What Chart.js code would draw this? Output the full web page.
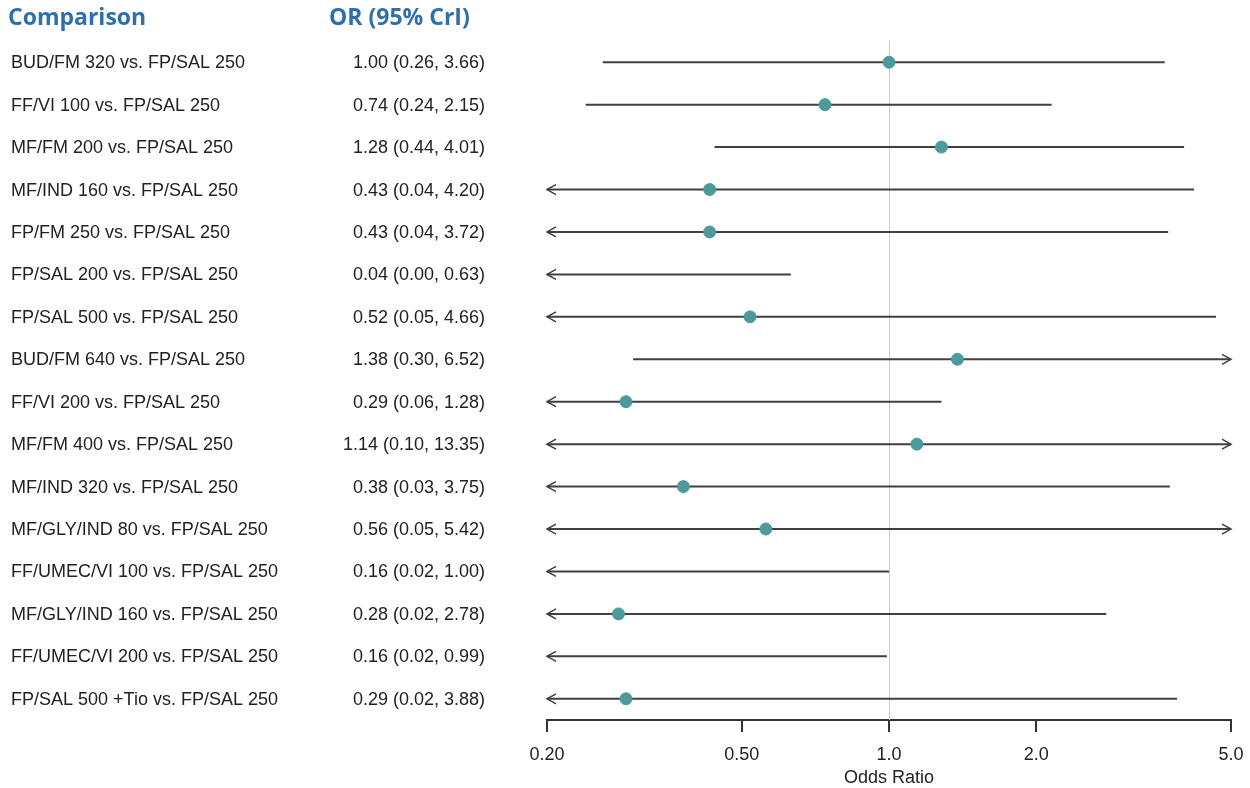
<!DOCTYPE html>
<html>
<head>
<meta charset="utf-8">
<script src="https://cdn.jsdelivr.net/npm/chart.js@4/dist/chart.umd.min.js"></script>
<style>
  body { margin: 0; background: #fff; }
  #wrap { width: 1250px; height: 788px; }
</style>
</head>
<body>
<div id="wrap"><canvas id="forest" width="1250" height="788"></canvas></div>
<script>
const comparisons = [
    'BUD/FM 320 vs. FP/SAL 250',
    'FF/VI 100 vs. FP/SAL 250',
    'MF/FM 200 vs. FP/SAL 250',
    'MF/IND 160 vs. FP/SAL 250',
    'FP/FM 250 vs. FP/SAL 250',
    'FP/SAL 200 vs. FP/SAL 250',
    'FP/SAL 500 vs. FP/SAL 250',
    'BUD/FM 640 vs. FP/SAL 250',
    'FF/VI 200 vs. FP/SAL 250',
    'MF/FM 400 vs. FP/SAL 250',
    'MF/IND 320 vs. FP/SAL 250',
    'MF/GLY/IND 80 vs. FP/SAL 250',
    'FF/UMEC/VI 100 vs. FP/SAL 250',
    'MF/GLY/IND 160 vs. FP/SAL 250',
    'FF/UMEC/VI 200 vs. FP/SAL 250',
    'FP/SAL 500 +Tio vs. FP/SAL 250'
];
const oddsRatio = [1.00, 0.74, 1.28, 0.43, 0.43, 0.04, 0.52, 1.38, 0.29, 1.14, 0.38, 0.56, 0.16, 0.28, 0.16, 0.29];
const lowerCrI  = [0.26, 0.24, 0.44, 0.04, 0.04, 0.00, 0.05, 0.30, 0.06, 0.10, 0.03, 0.05, 0.02, 0.02, 0.02, 0.02];
const upperCrI  = [3.66, 2.15, 4.01, 4.20, 3.72, 0.63, 4.66, 6.52, 1.28, 13.35, 3.75, 5.42, 1.00, 2.78, 0.99, 3.88];
const xTicks = [0.2, 0.5, 1, 2, 5];
const xTickLabels = ['0.20', '0.50', '1.0', '2.0', '5.0'];

const X_MIN = 0.2, X_MAX = 5;
const SANS = '"Liberation Sans", Arial, sans-serif';
const TEXT_FONT = '18px ' + SANS;
const HEAD_FONT = 'bold 23px "Open Sans", "Noto Sans", sans-serif';
const HEAD_COLOR = '#2e6fad';
const TEXT_COLOR = '#222';
const LINE_COLOR = '#404040';
const DOT_COLOR = '#4c9a9b';

const fmt = v => v.toFixed(2);

// text columns on the left + headers
const textColumns = {
    id: 'textColumns',
    afterDraw(chart) {
        const ctx = chart.ctx;
        const y = chart.scales.y;
        ctx.save();
        ctx.font = HEAD_FONT;
        ctx.fillStyle = HEAD_COLOR;
        ctx.textBaseline = 'middle';
        ctx.textAlign = 'left';
        ctx.fillText('Comparison', 8, 18);
        ctx.fillText('OR (95% CrI)', 329, 18);

        ctx.font = TEXT_FONT;
        ctx.fillStyle = TEXT_COLOR;
        comparisons.forEach((name, i) => {
            const py = y.getPixelForValue(i) + 1;
            ctx.textAlign = 'left';
            ctx.fillText(name, 11, py);
            ctx.textAlign = 'right';
            ctx.fillText(`${fmt(oddsRatio[i])} (${fmt(lowerCrI[i])}, ${fmt(upperCrI[i])})`, 485, py);
        });
        ctx.restore();
    }
};

// reference line at OR = 1 and the credible-interval segments with arrows
const intervals = {
    id: 'intervals',
    beforeDatasetsDraw(chart) {
        const ctx = chart.ctx;
        const x = chart.scales.x;
        const y = chart.scales.y;
        const area = chart.chartArea;
        ctx.save();
        const x1 = Math.round(x.getPixelForValue(1)) + 0.5;
        ctx.strokeStyle = '#cccccc';
        ctx.lineWidth = 1;
        ctx.beginPath();
        ctx.moveTo(x1, area.top);
        ctx.lineTo(x1, area.bottom);
        ctx.stroke();

        ctx.strokeStyle = LINE_COLOR;
        lowerCrI.forEach((lo, i) => {
            const hi = upperCrI[i];
            const py = y.getPixelForValue(i);
            const xa = x.getPixelForValue(Math.max(lo, X_MIN));
            const xb = x.getPixelForValue(Math.min(hi, X_MAX));
            ctx.lineWidth = 2;
            ctx.beginPath();
            ctx.moveTo(xa, py);
            ctx.lineTo(xb, py);
            ctx.stroke();
            ctx.lineWidth = 1.5;
            if (lo < X_MIN) {
                ctx.beginPath();
                ctx.moveTo(xa + 9, py - 5);
                ctx.lineTo(xa, py);
                ctx.lineTo(xa + 9, py + 5);
                ctx.stroke();
            }
            if (hi > X_MAX) {
                ctx.beginPath();
                ctx.moveTo(xb - 9, py - 5);
                ctx.lineTo(xb, py);
                ctx.lineTo(xb - 9, py + 5);
                ctx.stroke();
            }
        });
        ctx.restore();
    }
};

const points = oddsRatio.map((v, i) => ({ x: v, y: i })).filter(p => p.x >= X_MIN && p.x <= X_MAX);

new Chart(document.getElementById('forest'), {
    type: 'scatter',
    data: {
        datasets: [{
            data: points,
            backgroundColor: DOT_COLOR,
            borderColor: DOT_COLOR,
            pointRadius: 6,
            pointHoverRadius: 6
        }]
    },
    options: {
        responsive: false,
        animation: false,
        layout: { padding: { left: 547, right: 19, top: 41, bottom: 0 } },
        plugins: { legend: { display: false }, tooltip: { enabled: false } },
        scales: {
            x: {
                type: 'logarithmic',
                min: X_MIN,
                max: X_MAX,
                afterBuildTicks: axis => { axis.ticks = xTicks.map(v => ({ value: v })); },
                afterFit: axis => { axis.paddingLeft = 0; axis.paddingRight = 0; axis.height = 68; },
                grid: { drawOnChartArea: false, drawTicks: true, tickLength: 12, color: '#333', lineWidth: 2 },
                border: { display: true, color: '#333', width: 2 },
                ticks: {
                    autoSkip: false,
                    maxRotation: 0,
                    padding: 14,
                    color: TEXT_COLOR,
                    font: { family: SANS, size: 18, lineHeight: 1 },
                    callback: (v) => xTickLabels[xTicks.indexOf(v)] ?? ''
                },
                title: {
                    display: true,
                    text: 'Odds Ratio',
                    color: TEXT_COLOR,
                    font: { family: SANS, size: 18, lineHeight: 1 },
                    padding: { top: 5, bottom: 1 }
                }
            },
            y: {
                type: 'linear',
                min: -0.5,
                max: 15.5,
                reverse: true,
                display: false
            }
        }
    },
    plugins: [intervals, textColumns]
});
</script>
</body>
</html>
